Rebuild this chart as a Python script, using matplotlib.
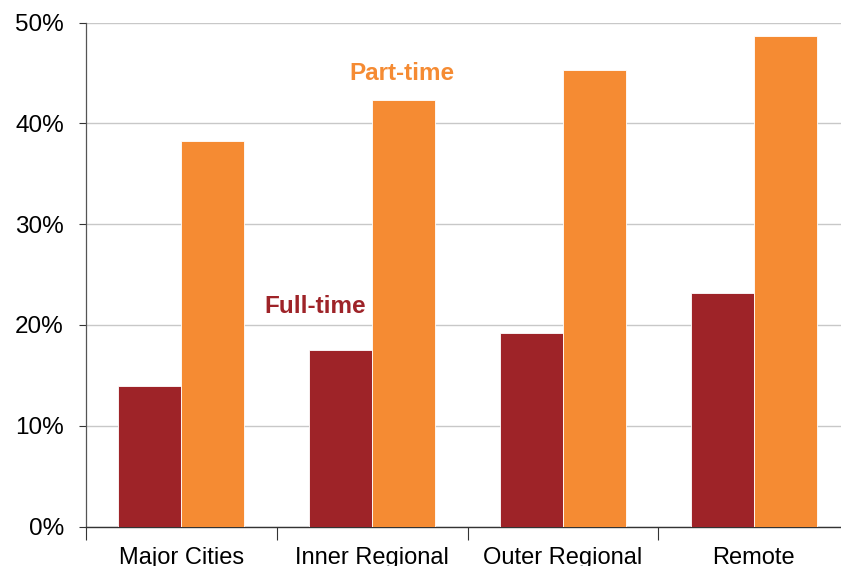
import matplotlib
matplotlib.use("Agg")
import matplotlib.pyplot as plt
import numpy as np

plt.rcParams['font.family'] = ['Liberation Sans', 'DejaVu Sans']

categories = ["Major Cities", "Inner Regional", "Outer Regional", "Remote"]
full_time = [13.9, 17.5, 19.2, 23.2]
part_time = [38.2, 42.3, 45.3, 48.7]
y_ticks = [0, 10, 20, 30, 40, 50]
y_tick_labels = ["0%", "10%", "20%", "30%", "40%", "50%"]

c_ft = "#9E2328"
c_pt = "#F58B33"

fig = plt.figure(figsize=(8.41, 5.66), dpi=100)
ax = fig.add_axes([86/841, 1 - 526.5/566, (849-86)/841, (526.5-22.5)/566])

x = np.arange(len(categories))
w = 0.33
ax.bar(x - w/2, full_time, width=w, color=c_ft, edgecolor="white", linewidth=0.6, zorder=3)
ax.bar(x + w/2, part_time, width=w, color=c_pt, edgecolor="white", linewidth=0.6, zorder=3)

ax.set_xlim(-0.5, len(categories) - 0.5)
ax.set_ylim(0, 50)
ax.set_yticks(y_ticks)
ax.set_yticklabels(y_tick_labels, fontsize=17.5)
ax.yaxis.grid(True, color="#C8C8C8", linewidth=1.0, zorder=0)
ax.set_axisbelow(True)

ax.set_xticks(np.arange(len(categories) + 1) - 0.5)
ax.set_xticklabels([])
ax.set_xticks(x, minor=True)
ax.set_xticklabels(categories, minor=True, fontsize=17)
ax.tick_params(axis="x", which="major", length=9, width=0.8, direction="out", color="#333333")
ax.tick_params(axis="x", which="minor", length=0, pad=15)
ax.tick_params(axis="y", length=5, width=0.8, direction="out", color="#333333", pad=11)

for s in ["top", "right"]:
    ax.spines[s].set_visible(False)
ax.spines["left"].set_color("#555555")
ax.spines["left"].set_linewidth(0.9)
ax.spines["bottom"].set_color("#333333")
ax.spines["bottom"].set_linewidth(1.0)

ax.text(1.157, 44.9, "Part-time", color=c_pt, fontsize=17.5, fontweight="bold", ha="center", va="center")
ax.text(0.70, 21.8, "Full-time", color=c_ft, fontsize=17.5, fontweight="bold", ha="center", va="center")

fig.savefig("out.png", dpi=100)
